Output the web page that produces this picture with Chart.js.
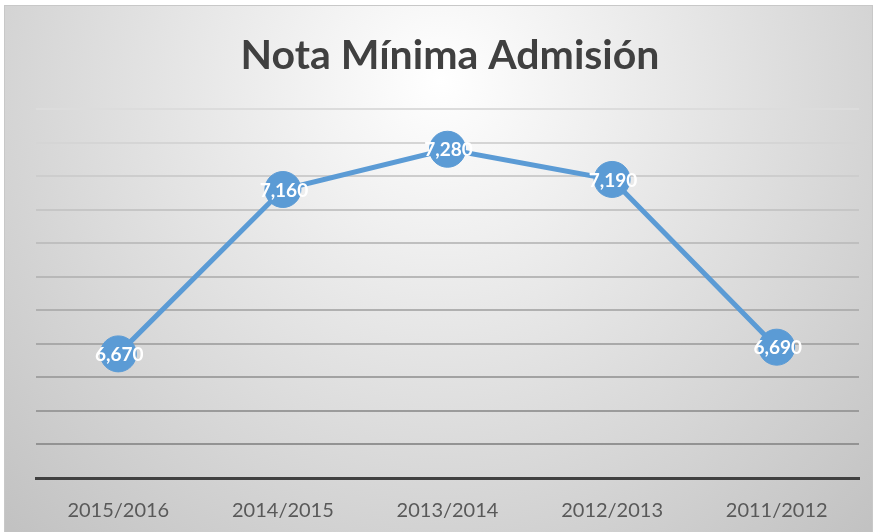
<!DOCTYPE html>
<html>
<head>
<meta charset="utf-8">
<script src="https://cdn.jsdelivr.net/npm/chart.js@4/dist/chart.umd.min.js"></script>
<style>
  html, body { margin: 0; padding: 0; background: #fff; }
  #wrap { width: 878px; height: 532px; }
</style>
</head>
<body>
<div id="wrap"><canvas id="nota"></canvas></div>
<script>
// datos
const cursos = ['2015/2016', '2014/2015', '2013/2014', '2012/2013', '2011/2012'];
const notas = [6.67, 7.16, 7.28, 7.19, 6.69];
const titulo = 'Nota Mínima Admisión';
const yMin = 6.3;
const yMax = 7.4;
const yPaso = 0.1;

const azul = '#5B9BD5';

// fondo con degradado + titulo
const fondo = {
    id: 'fondo',
    beforeDraw(chart) {
        const ctx = chart.ctx;
        ctx.save();
        ctx.fillStyle = '#ffffff';
        ctx.fillRect(0, 0, chart.width, chart.height);
        const g = ctx.createRadialGradient(440, 80, 0, 440, 80, 620);
        g.addColorStop(0, '#ffffff');
        g.addColorStop(1, '#c2c2c2');
        ctx.fillStyle = g;
        ctx.fillRect(5, 6, 867, 530);
        ctx.strokeStyle = '#c8c8c8';
        ctx.lineWidth = 1;
        ctx.strokeRect(4.5, 5.5, 868, 530);
        ctx.fillStyle = '#404040';
        ctx.font = 'bold 41px Lato';
        ctx.textAlign = 'center';
        ctx.textBaseline = 'middle';
        ctx.fillText(titulo, 450, 56);
        ctx.restore();
    }
};

// etiquetas de datos blancas sobre los puntos
const etiquetas = {
    id: 'etiquetas',
    afterDatasetsDraw(chart) {
        const ctx = chart.ctx;
        const meta = chart.getDatasetMeta(0);
        ctx.save();
        ctx.fillStyle = '#ffffff';
        ctx.font = 'bold 19px Lato';
        ctx.textAlign = 'center';
        ctx.textBaseline = 'middle';
        meta.data.forEach((p, i) => {
            const txt = notas[i].toFixed(3).replace('.', ',');
            ctx.fillText(txt, p.x + 1, p.y + 1);
        });
        ctx.restore();
    }
};

const nota = new Chart(
    document.getElementById('nota'),
    {
        type: 'line',
        data: {
            labels: cursos,
            datasets: [{
                data: notas,
                borderColor: azul,
                backgroundColor: azul,
                borderWidth: 5,
                pointRadius: 18,
                pointBorderWidth: 1,
                pointBackgroundColor: azul,
                pointBorderColor: azul,
                tension: 0,
                clip: false
            }]
        },
        options: {
            responsive: true,
            maintainAspectRatio: false,
            animation: false,
            layout: {
                padding: { top: 109, left: 36, right: 16, bottom: 0 }
            },
            plugins: {
                legend: { display: false },
                title: { display: false },
                tooltip: { enabled: false }
            },
            scales: {
                x: {
                    offset: true,
                    grid: { display: false, drawTicks: false },
                    border: { color: '#404040', width: 3 },
                    ticks: {
                        color: '#595959',
                        padding: 21,
                        font: { family: 'Lato', size: 20 }
                    },
                    afterFit(scale) { scale.height = 54; }
                },
                y: {
                    min: yMin,
                    max: yMax,
                    grid: {
                        color: (c) => {
                            // indice 0 = abajo (oscuro), arriba mas claro
                            const k = c.index / 11;
                            const v = Math.round(140 + 80 * k);
                            return 'rgb(' + v + ',' + v + ',' + v + ')';
                        },
                        lineWidth: 2,
                        drawTicks: false
                    },
                    border: { display: false },
                    ticks: { display: false, stepSize: yPaso },
                    afterFit(scale) { scale.width = 0; }
                }
            }
        },
        plugins: [fondo, etiquetas]
    }
);
</script>
</body>
</html>
